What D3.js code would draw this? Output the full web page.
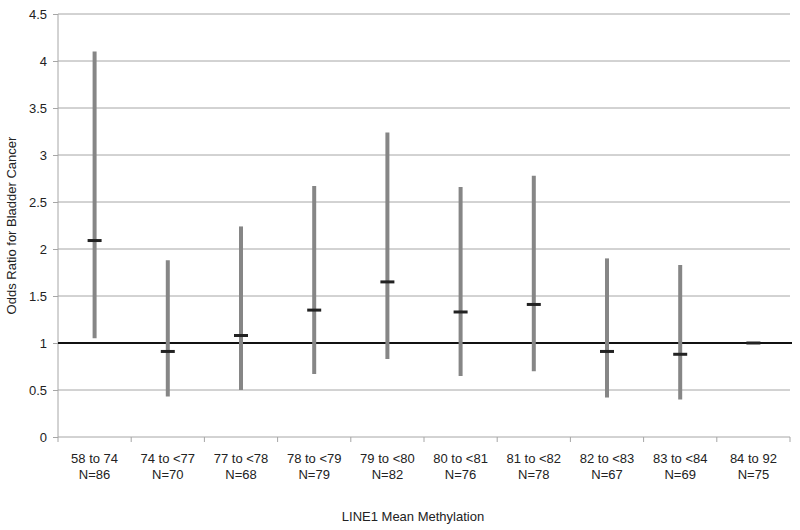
<!DOCTYPE html>
<html>
<head>
<meta charset="utf-8">
<script src="https://cdn.jsdelivr.net/npm/d3@7"></script>
<style>
  body { margin: 0; background: #fff; }
  text { font-family: "Liberation Sans", Arial, sans-serif; fill: #222; }
</style>
</head>
<body>
<div id="chart"></div>
<script>
// categories (two lines each)
var ranges = ["58 to 74", "74 to <77", "77 to <78", "78 to <79", "79 to <80",
              "80 to <81", "81 to <82", "82 to <83", "83 to <84", "84 to 92"];
var counts = ["N=86", "N=70", "N=68", "N=79", "N=82", "N=76", "N=78", "N=67", "N=69", "N=75"];
// odds ratio and 95% CI
var oddsRatio = [2.09, 0.91, 1.08, 1.35, 1.65, 1.33, 1.41, 0.91, 0.88, 1.0];
var lower     = [1.05, 0.43, 0.50, 0.67, 0.83, 0.65, 0.70, 0.42, 0.40, 1.0];
var upper     = [4.10, 1.88, 2.24, 2.67, 3.24, 2.66, 2.78, 1.90, 1.83, 1.0];
var yTicks = [0, 0.5, 1, 1.5, 2, 2.5, 3, 3.5, 4, 4.5];

var width = 800, height = 530;
var margin = {top: 14, right: 10, bottom: 93, left: 58};

var svg = d3.select("#chart")
    .append("svg")
    .attr("width", width)
    .attr("height", height);

var x = d3.scaleBand()
    .domain(d3.range(ranges.length))
    .range([margin.left, width - margin.right]);

var y = d3.scaleLinear()
    .domain([0, 4.5])
    .range([height - margin.bottom, margin.top]);

// gridlines
svg.append("g")
    .selectAll("line")
    .data(yTicks.filter(function(d){ return d > 0; }))
    .enter()
  .append("line")
    .attr("x1", margin.left)
    .attr("x2", width - margin.right)
    .attr("y1", function(d){ return y(d); })
    .attr("y2", function(d){ return y(d); })
    .style("stroke", "#a6a6a6")
    .style("stroke-width", 1);

// y axis
var yAxis = svg.append("g")
    .attr("transform", "translate(" + margin.left + ",0)")
    .call(d3.axisLeft(y).tickValues(yTicks).tickSize(5).tickPadding(6)
      .tickFormat(function(d){ return String(d); }));
yAxis.selectAll("path, line").style("stroke", "#a6a6a6");
yAxis.selectAll("text").style("font-size", "13px").style("fill", "#222")
    .style("font-family", "Liberation Sans, Arial, sans-serif");
yAxis.select("path").attr("d", "M0," + y(4.5) + "V" + y(0));

// x axis
var xAxis = svg.append("g")
    .attr("transform", "translate(0," + y(0) + ")");
xAxis.append("line")
    .attr("x1", margin.left).attr("x2", width - margin.right)
    .style("stroke", "#a6a6a6");
xAxis.selectAll("line.tick")
    .data(d3.range(ranges.length + 1))
    .enter()
  .append("line")
    .attr("class", "tick")
    .attr("x1", function(d){ return margin.left + d * x.step(); })
    .attr("x2", function(d){ return margin.left + d * x.step(); })
    .attr("y1", 0).attr("y2", 5)
    .style("stroke", "#a6a6a6");

var labels = svg.append("g").selectAll("text")
    .data(ranges)
    .enter()
  .append("text")
    .attr("text-anchor", "middle")
    .style("font-size", "13px")
    .attr("x", function(d, i){ return x(i) + x.bandwidth() / 2; })
    .attr("y", y(0) + 26);
labels.append("tspan")
    .attr("x", function(d, i){ return x(i) + x.bandwidth() / 2; })
    .text(function(d){ return d; });
labels.append("tspan")
    .attr("x", function(d, i){ return x(i) + x.bandwidth() / 2; })
    .attr("dy", 16)
    .text(function(d, i){ return counts[i]; });

// reference line at 1
svg.append("line")
    .attr("x1", margin.left)
    .attr("x2", width - margin.right + 2)
    .attr("y1", y(1)).attr("y2", y(1))
    .style("stroke", "#111")
    .style("stroke-width", 2);

// confidence intervals
svg.append("g").selectAll("line")
    .data(oddsRatio)
    .enter()
  .append("line")
    .attr("x1", function(d, i){ return x(i) + x.bandwidth() / 2; })
    .attr("x2", function(d, i){ return x(i) + x.bandwidth() / 2; })
    .attr("y1", function(d, i){ return y(lower[i]); })
    .attr("y2", function(d, i){ return y(upper[i]); })
    .style("stroke", "#868686")
    .style("stroke-width", 4);

// point estimates
svg.append("g").selectAll("line")
    .data(oddsRatio)
    .enter()
  .append("line")
    .attr("x1", function(d, i){ return x(i) + x.bandwidth() / 2 - 7; })
    .attr("x2", function(d, i){ return x(i) + x.bandwidth() / 2 + 7; })
    .attr("y1", function(d){ return y(d); })
    .attr("y2", function(d){ return y(d); })
    .style("stroke", "#222")
    .style("stroke-width", 3);

// axis titles
svg.append("text")
    .attr("transform", "translate(16," + ((y(0) + y(4.5)) / 2) + ") rotate(-90)")
    .attr("text-anchor", "middle")
    .style("font-size", "13px")
    .text("Odds Ratio for Bladder Cancer");

svg.append("text")
    .attr("x", 413)
    .attr("y", 521)
    .attr("text-anchor", "middle")
    .style("font-size", "13px")
    .text("LINE1 Mean Methylation");
</script>
</body>
</html>
